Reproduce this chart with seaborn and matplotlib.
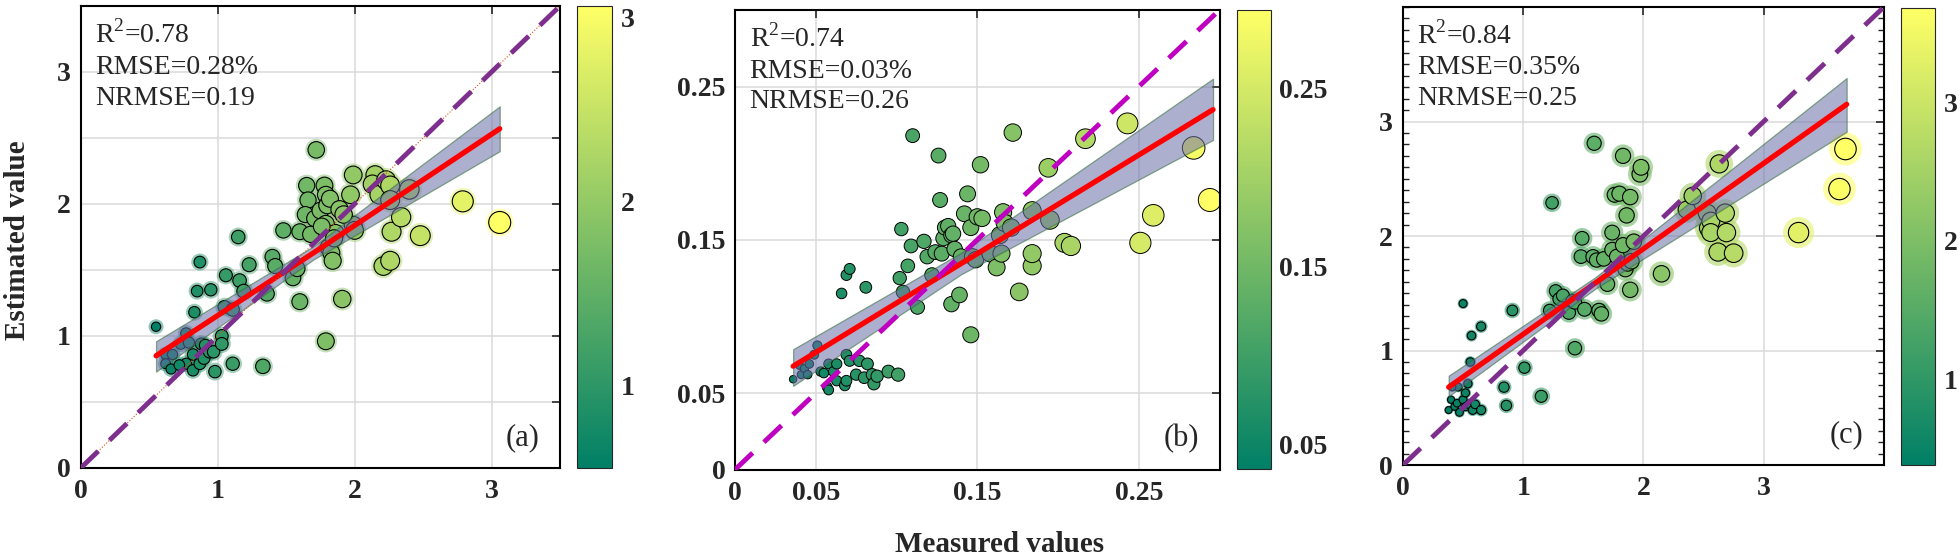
import matplotlib
matplotlib.use("Agg")
import matplotlib.pyplot as plt
import seaborn as sns
import numpy as np
from matplotlib.colors import Normalize
from matplotlib.cm import ScalarMappable
from matplotlib.ticker import MultipleLocator, FuncFormatter

# ---------------- data ----------------
# panel (a)
xa = [0.55, 0.62, 0.67, 0.62, 0.66, 0.73, 0.77, 0.79, 0.77, 0.82, 0.72, 0.82, 0.83, 0.85,
      0.87, 0.95, 0.88, 0.91, 0.87, 0.90, 0.94, 0.97, 0.98, 1.03, 1.03, 1.06, 1.05, 1.11,
      1.11, 1.15, 1.16, 1.19, 1.23, 1.33, 1.36, 1.40, 1.42, 1.48, 1.55, 1.58, 1.60, 1.60,
      1.65, 1.66, 1.64, 1.68, 1.72, 1.71, 1.75, 1.78, 1.79, 1.80, 1.79, 1.79, 1.81, 1.82,
      1.83, 1.84, 1.86, 1.85, 1.89, 1.91, 1.97, 1.99, 1.99, 2.00, 2.15, 2.13, 2.21, 2.18,
      2.23, 2.26, 2.26, 2.26, 2.27, 2.34, 2.40, 2.48, 2.79, 3.06, 1.92, 1.76]
ya = [1.07, 0.86, 0.86, 0.79, 0.75, 0.94, 1.02, 0.95, 0.79, 0.74, 0.78, 0.86, 1.18, 1.34,
      1.56, 1.35, 0.94, 0.93, 0.79, 0.83, 0.88, 0.88, 0.73, 1.00, 0.94, 1.46, 1.22, 1.20,
      0.79, 1.75, 1.42, 1.34, 1.54, 0.77, 1.32, 1.60, 1.53, 1.80, 1.44, 1.51, 1.26, 1.79,
      2.14, 2.03, 1.92, 1.77, 2.41, 1.89, 1.95, 2.14, 2.07, 1.99, 1.85, 0.96, 1.67, 2.04,
      1.63, 1.57, 1.78, 1.74, 1.96, 1.28, 2.07, 1.84, 2.22, 1.80, 2.22, 2.15, 1.53, 2.07,
      2.18, 2.14, 2.03, 1.57, 1.79, 1.90, 2.11, 1.76, 2.02, 1.86, 1.92, 1.83]
fit_xa = [0.55, 1.70, 3.06]
fit_ya = [0.85, 1.63, 2.57]
band_lo_a = [0.73, 1.58, 2.40]
band_hi_a = [0.96, 1.68, 2.74]

# panel (b)
xb = [0.036, 0.040, 0.041, 0.043, 0.045, 0.046, 0.049, 0.051, 0.053, 0.055, 0.057, 0.058,
      0.058, 0.061, 0.063, 0.063, 0.066, 0.068, 0.069, 0.069, 0.069, 0.071, 0.071, 0.075,
      0.077, 0.081, 0.080, 0.082, 0.085, 0.086, 0.088, 0.095, 0.101, 0.102, 0.103, 0.104,
      0.107, 0.109, 0.110, 0.113, 0.117, 0.119, 0.122, 0.124, 0.126, 0.127, 0.128, 0.129,
      0.130, 0.132, 0.134, 0.134, 0.135, 0.136, 0.139, 0.140, 0.142, 0.144, 0.146, 0.146,
      0.147, 0.149, 0.150, 0.152, 0.153, 0.158, 0.162, 0.164, 0.165, 0.166, 0.167, 0.171,
      0.172, 0.176, 0.184, 0.184, 0.184, 0.194, 0.195, 0.204, 0.208, 0.217, 0.243, 0.251,
      0.259, 0.284, 0.294]
yb = [0.059, 0.068, 0.062, 0.066, 0.062, 0.069, 0.075, 0.081, 0.064, 0.063, 0.054, 0.069,
      0.052, 0.064, 0.069, 0.058, 0.115, 0.055, 0.075, 0.127, 0.058, 0.071, 0.131, 0.062,
      0.071, 0.119, 0.060, 0.069, 0.062, 0.056, 0.061, 0.064, 0.062, 0.125, 0.157, 0.116,
      0.133, 0.146, 0.218, 0.106, 0.149, 0.139, 0.127, 0.142, 0.205, 0.176, 0.141, 0.151,
      0.158, 0.159, 0.108, 0.153, 0.154, 0.144, 0.114, 0.139, 0.167, 0.180, 0.088, 0.158,
      0.139, 0.137, 0.165, 0.199, 0.164, 0.141, 0.132, 0.153, 0.141, 0.168, 0.161, 0.158,
      0.220, 0.116, 0.133, 0.141, 0.169, 0.197, 0.163, 0.148, 0.146, 0.216, 0.226, 0.148,
      0.166, 0.210, 0.176]
fit_xb = [0.036, 0.140, 0.296]
fit_yb = [0.0675, 0.1345, 0.235]
band_lo_b = [0.0547, 0.1275, 0.2152]
band_hi_b = [0.0786, 0.1415, 0.2552]

# panel (c)
xc = [0.38, 0.40, 0.43, 0.45, 0.47, 0.46, 0.50, 0.52, 0.52, 0.54, 0.55, 0.58, 0.60, 0.65,
      0.41, 0.50, 0.57, 0.65, 0.56, 0.84, 0.86, 0.91, 1.01, 1.15, 1.24, 1.22, 1.27, 1.30,
      1.33, 1.38, 1.41, 1.43, 1.43, 1.49, 1.48, 1.51, 1.59, 1.58, 1.61, 1.63, 1.65, 1.67,
      1.70, 1.74, 1.74, 1.76, 1.78, 1.80, 1.83, 1.83, 1.85, 1.86, 1.87, 1.89, 1.89, 1.90,
      1.92, 1.97, 1.98, 2.15, 2.36, 2.41, 2.53, 2.54, 2.56, 2.56, 2.62, 2.63, 2.68, 2.69,
      2.75, 3.29, 3.63, 3.68]
yc = [0.48, 0.57, 0.51, 0.54, 0.46, 0.68, 0.57, 0.63, 0.51, 0.71, 0.53, 0.48, 0.53, 0.48,
      0.68, 1.41, 1.13, 1.21, 0.90, 0.68, 0.52, 1.35, 0.85, 0.60, 2.29, 1.35, 1.52, 1.45,
      1.48, 1.33, 1.43, 1.42, 1.02, 1.98, 1.82, 1.36, 2.81, 1.82, 1.79, 1.35, 1.32, 1.80,
      1.58, 2.03, 1.88, 2.36, 1.82, 2.37, 2.70, 1.92, 1.71, 2.18, 1.76, 2.34, 1.53, 1.78,
      1.95, 2.54, 2.60, 1.67, 2.23, 2.35, 2.20, 2.07, 2.13, 2.03, 1.86, 2.63, 2.20, 2.03,
      1.85, 2.03, 2.41, 2.76]
fit_xc = [0.38, 1.60, 3.69]
fit_yc = [0.68, 1.59, 3.15]
band_lo_c = [0.60, 1.54, 2.91]
band_hi_c = [0.78, 1.64, 3.38]

stats_a = ["R$^{2}$=0.78", "RMSE=0.28%", "NRMSE=0.19"]
stats_b = ["R$^{2}$=0.74", "RMSE=0.03%", "NRMSE=0.26"]
stats_c = ["R$^{2}$=0.84", "RMSE=0.35%", "NRMSE=0.25"]
tags = ["(a)", "(b)", "(c)"]

lim_a, lim_b, lim_c = 3.5, 0.3, 4.0
ticks_a = [0, 1, 2, 3]
ticks_b = [0, 0.05, 0.15, 0.25]
ticks_c = [0, 1, 2, 3]
cbticks_a = [1, 2, 3]
cbticks_b = [0.05, 0.15, 0.25]
cbticks_c = [1, 2, 3]

# ---------------- style ----------------
sns.set_style("white")
plt.rcParams["font.family"] = ["Liberation Serif", "DejaVu Serif"]
plt.rcParams["mathtext.fontset"] = "custom"
plt.rcParams["mathtext.rm"] = "Liberation Serif"
cmap = "summer"

fig = plt.figure(figsize=(19.6, 5.6), dpi=100)

ax_pos = [[0.0412, 0.1643, 0.2445, 0.8250],
          [0.3750, 0.1614, 0.2472, 0.8207],
          [0.7158, 0.1696, 0.2454, 0.8179]]
cb_pos = [[0.2944, 0.1643, 0.0179, 0.8250],
          [0.6311, 0.1625, 0.0174, 0.8196],
          [0.9699, 0.1696, 0.0174, 0.8160]]

panels = [
    dict(x=xa, y=ya, fx=fit_xa, fy=fit_ya, lo=band_lo_a, hi=band_hi_a, st=stats_a,
         lim=lim_a, ticks=ticks_a, cbt=cbticks_a, diag="#7E2F8E", sz=(45, 251),
         halo=(117, 406), mode="halo"),
    dict(x=xb, y=yb, fx=fit_xb, fy=fit_yb, lo=band_lo_b, hi=band_hi_b, st=stats_b,
         lim=lim_b, ticks=ticks_b, cbt=cbticks_b, diag="#C000C0", sz=(29, 274),
         halo=None, mode="plain"),
    dict(x=xc, y=yc, fx=fit_xc, fy=fit_yc, lo=band_lo_c, hi=band_hi_c, st=stats_c,
         lim=lim_c, ticks=ticks_c, cbt=cbticks_c, diag="#7E2F8E", sz=(25, 240),
         halo=(42, 564), mode="ring"),
]

for i, p in enumerate(panels):
    ax = fig.add_axes(ax_pos[i])
    vmin, vmax = min(p["x"]), max(p["x"])
    norm = (vmin, vmax)

    if p["mode"] == "halo":
        sns.scatterplot(x=p["x"], y=p["y"], hue=p["x"], size=p["x"], palette=cmap,
                        hue_norm=norm, sizes=p["halo"], size_norm=norm, alpha=0.45,
                        linewidth=0, legend=False, ax=ax, zorder=2)
        sns.scatterplot(x=p["x"], y=p["y"], hue=p["x"], size=p["x"], palette=cmap,
                        hue_norm=norm, sizes=p["sz"], size_norm=norm,
                        edgecolor="black", linewidth=0.8, legend=False, ax=ax, zorder=2)
    elif p["mode"] == "plain":
        sns.scatterplot(x=p["x"], y=p["y"], hue=p["x"], size=p["x"], palette=cmap,
                        hue_norm=norm, sizes=p["sz"], size_norm=norm,
                        edgecolor="black", linewidth=0.7, legend=False, ax=ax, zorder=2)
    else:
        sns.scatterplot(x=p["x"], y=p["y"], hue=p["x"], size=p["x"], palette=cmap,
                        hue_norm=norm, sizes=p["halo"], size_norm=norm, alpha=0.6,
                        linewidth=0, legend=False, ax=ax, zorder=2)
        sns.scatterplot(x=p["x"], y=p["y"], hue=p["x"], size=p["x"], palette=cmap,
                        hue_norm=norm, sizes=p["sz"], size_norm=norm,
                        edgecolor="black", linewidth=0.8, legend=False, ax=ax, zorder=2)

    # confidence band and fit line
    ax.fill_between(p["fx"], p["lo"], p["hi"], facecolor=(0.42, 0.43, 0.66), alpha=0.55,
                    edgecolor="#2F6B35", linewidth=0.9, zorder=3)
    sns.lineplot(x=p["fx"], y=p["fy"], color="red", linewidth=3.8, ax=ax, zorder=4)

    # 1:1 line
    diag = [0, p["lim"]]
    if i == 0:
        sns.lineplot(x=diag, y=diag, color="#D95319", linewidth=0.8, linestyle=":",
                     ax=ax, zorder=4)
    sns.lineplot(x=diag, y=diag, color=p["diag"], linewidth=3.5, ax=ax, zorder=5,
                 dashes=False).lines[-1].set_dashes((5, 3.2))

    ax.set_xlim(0, p["lim"])
    ax.set_ylim(0, p["lim"])
    ax.set_xticks(p["ticks"])
    if i == 0:
        ax.yaxis.set_major_locator(MultipleLocator(0.5))
        ax.yaxis.set_major_formatter(FuncFormatter(
            lambda v, pos: f"{v:g}" if abs(v - round(v)) < 1e-9 else ""))
    else:
        ax.set_yticks(p["ticks"])
        ax.set_yticklabels([f"{t:g}" for t in p["ticks"]])
    ax.set_xticklabels([f"{t:g}" for t in p["ticks"]])
    if i == 2:
        ax.yaxis.set_minor_locator(MultipleLocator(0.1))
        ax.tick_params(axis="y", which="minor", direction="in", length=4, width=1,
                       left=True, right=True)
    ax.tick_params(which="major", direction="in", length=6, width=1.2, top=True,
                   right=True, labelsize=20)
    ax.tick_params(axis="x", pad=8)
    ax.tick_params(axis="y", pad=7)
    for lab in ax.get_xticklabels() + ax.get_yticklabels():
        lab.set_fontweight("bold")
    ax.grid(True, color="#DADADA", linewidth=1.1)
    ax.set_axisbelow(True)
    for s in ax.spines.values():
        s.set_linewidth(1.5)
        s.set_color("black")
    ax.set_xlabel("")
    ax.set_ylabel("")

    ys = [0.92, 0.853, 0.786]
    for line, yy in zip(p["st"], ys):
        ax.text(0.03, yy, line, transform=ax.transAxes, fontsize=20, va="baseline",
                ha="left", zorder=6)
    ax.text(0.958, 0.05, tags[i], transform=ax.transAxes, fontsize=22, va="baseline",
            ha="right", zorder=6)

    # colorbar
    cax = fig.add_axes(cb_pos[i])
    sm = ScalarMappable(norm=Normalize(vmin, vmax), cmap=cmap)
    cb = fig.colorbar(sm, cax=cax)
    cb.set_ticks(p["cbt"])
    cb.set_ticklabels([f"{t:g}" for t in p["cbt"]])
    cb.ax.tick_params(direction="in", length=4, width=1, labelsize=20, pad=6)
    for lab in cb.ax.get_yticklabels():
        lab.set_fontweight("bold")
    cb.outline.set_linewidth(0.8)

fig.text(0.510, 0.027, "Measured values", fontsize=21, fontweight="bold",
         ha="center", va="center")
fig.text(0.009, 0.571, "Estimated value", fontsize=21, fontweight="bold",
         ha="center", va="center", rotation=90)

fig.savefig("out.png", dpi=100)
